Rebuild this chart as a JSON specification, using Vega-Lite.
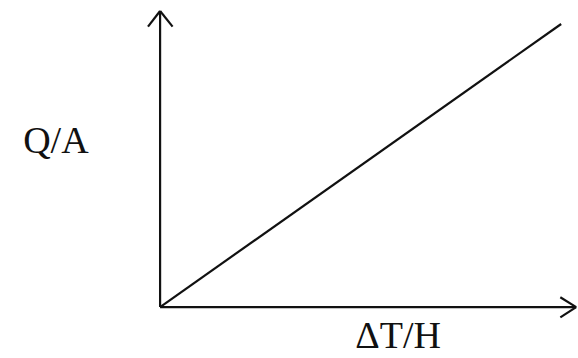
{
  "$schema": "https://vega.github.io/schema/vega-lite/v6.json",
  "width": 578,
  "height": 358,
  "autosize": {"type": "fit", "contains": "padding"},
  "padding": 0,
  "background": "white",
  "config": {"view": {"stroke": null}},
  "datasets": {
    "segments": [
      {"part": "y axis", "x": 0, "y": 0, "x2": 0, "y2": 10.0},
      {"part": "x axis", "x": 0, "y": 0, "x2": 9.98, "y2": 0},
      {"part": "y arrow left", "x": 0, "y": 10.0, "x2": -0.29, "y2": 9.47},
      {"part": "y arrow right", "x": 0, "y": 10.0, "x2": 0.30, "y2": 9.47},
      {"part": "x arrow upper", "x": 9.98, "y": 0, "x2": 9.6, "y2": 0.33},
      {"part": "x arrow lower", "x": 9.98, "y": 0, "x2": 9.6, "y2": -0.35},
      {"part": "line", "x": 0, "y": 0, "x2": 9.62, "y2": 9.56}
    ],
    "labels": [
      {"label": "Q/A", "x": -2.5, "y": 5.2},
      {"label": "ΔT/H", "x": 5.71, "y": -1.39}
    ]
  },
  "layer": [
    {
      "data": {"name": "segments"},
      "mark": {"type": "rule", "color": "#111111", "strokeWidth": 2.2},
      "encoding": {
        "x": {"field": "x", "type": "quantitative", "scale": {"domain": [-3.84, 10], "nice": false, "zero": false}, "axis": null},
        "y": {"field": "y", "type": "quantitative", "scale": {"domain": [-1.72, 10.37], "nice": false, "zero": false}, "axis": null},
        "x2": {"field": "x2"},
        "y2": {"field": "y2"}
      }
    },
    {
      "data": {"name": "labels"},
      "mark": {"type": "text", "font": "Liberation Serif", "fontSize": 38, "color": "#111111", "align": "center", "baseline": "alphabetic"},
      "encoding": {
        "x": {"field": "x", "type": "quantitative"},
        "y": {"field": "y", "type": "quantitative"},
        "text": {"field": "label"}
      }
    }
  ]
}
